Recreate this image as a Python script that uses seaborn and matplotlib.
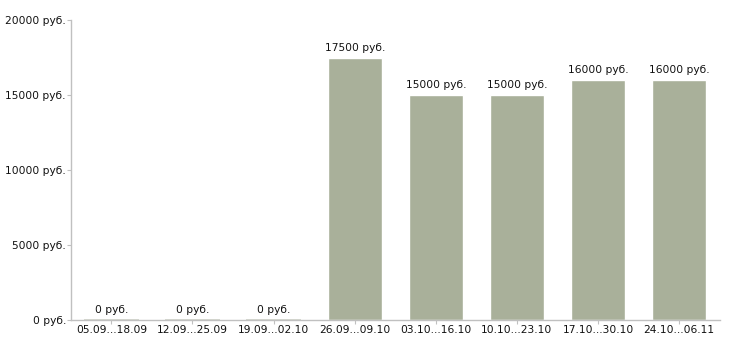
import matplotlib
matplotlib.use("Agg")
import matplotlib.pyplot as plt
import seaborn as sns
import pandas as pd

periods = ["05.09...18.09", "12.09...25.09", "19.09...02.10", "26.09...09.10",
           "03.10...16.10", "10.10...23.10", "17.10...30.10", "24.10...06.11"]
values = [0, 0, 0, 17500, 15000, 15000, 16000, 16000]
yticks = [0, 5000, 10000, 15000, 20000]

sns.set_theme(style="white")
plt.rcParams['font.family'] = ['DejaVu Sans']

df = pd.DataFrame({"period": periods, "value": values})
fig = plt.figure(figsize=(7.3, 3.4), dpi=100)
ax = fig.add_axes([0.097, 0.059, 0.889, 0.882])
sns.barplot(data=df, x="period", y="value", color="#a9b09a", saturation=1,
            width=0.67, ax=ax)
for p, v in zip(ax.patches, values):
    if v == 0:
        p.set_edgecolor("#cfd2c8")
        p.set_linewidth(1.2)
    ax.text(p.get_x() + p.get_width() / 2, v + 330, f"{v} руб.",
            ha="center", va="bottom", fontsize=7.7, color="#111111")

ax.set_ylim(0, 20000)
ax.set_xlim(-0.5, len(periods) - 0.5)
ax.set_yticks(yticks)
ax.set_yticklabels([f"{t} руб." for t in yticks])
ax.set_xlabel("")
ax.set_ylabel("")
for s in ["top", "right"]:
    ax.spines[s].set_visible(False)
for s in ["left", "bottom"]:
    ax.spines[s].set_color("#c0c0c0")
    ax.spines[s].set_linewidth(1)
ax.tick_params(axis="y", length=3, width=0.8, color="#c0c0c0", labelsize=7.7,
               labelcolor="#111111", pad=0.5, left=True)
ax.tick_params(axis="x", length=3, width=0.8, color="#c0c0c0", labelsize=7.7,
               labelcolor="#111111", pad=1, bottom=True)
fig.savefig("out.png", dpi=100)
